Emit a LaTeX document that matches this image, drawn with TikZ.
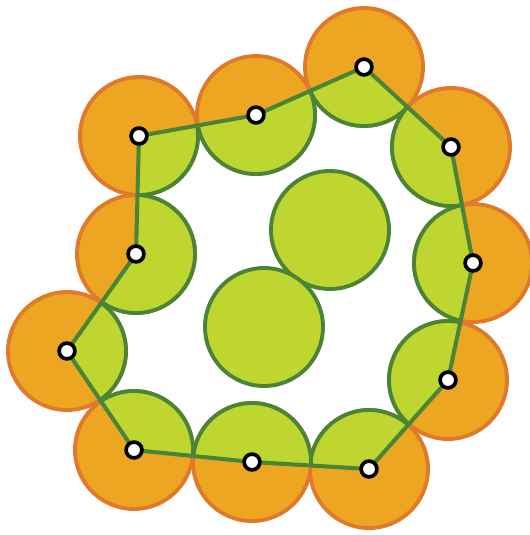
\documentclass[tikz,border=0pt]{standalone}
\usepackage{tikz}
\usetikzlibrary{positioning}
\definecolor{ofill}{HTML}{ECA621}
\definecolor{oline}{HTML}{E07A2A}
\definecolor{gfill}{HTML}{BFD630}
\definecolor{gline}{HTML}{4A8537}

\begin{document}
\begin{tikzpicture}[
  x=0.02cm,y=-0.02cm,
  O/.style={fill=ofill,draw=oline,line width=2.2pt},
  G/.style={fill=gfill,draw=gline,line width=2.2pt},
  ln/.style={draw=gline,line width=2.3pt,line join=round},
  dot/.style={circle,draw=black,fill=white,line width=2.1pt,
              inner sep=0pt,minimum size=9pt}
]
\useasboundingbox (0,0) rectangle (530,535);

% ring of centres
\foreach \n/\x/\y in {1/139/136,2/256/115,3/364/67,4/451/147,
                      5/473/263,6/448/380,7/369/469,8/252/462,
                      9/134/450,10/67/351,11/136/254}
  \coordinate (p\n) at (\x,\y);
\coordinate (c1) at (330,230);
\coordinate (c2) at (264,327);

% outer parts
\foreach \n in {1,...,11}
  \draw[O] (p\n) circle[radius=59];

% inner parts
\begin{scope}
  \clip (p1)--(p2)--(p3)--(p4)--(p5)--(p6)--(p7)--(p8)--(p9)--(p10)--(p11)--cycle;
  \foreach \n in {1,...,11}
    \draw[G] (p\n) circle[radius=59];
\end{scope}
\draw[G] (c1) circle[radius=59];
\draw[G] (c2) circle[radius=59];

\draw[ln] (p1)--(p2)--(p3)--(p4)--(p5)--(p6)--(p7)--(p8)--(p9)--(p10)--(p11)--cycle;

\foreach \n in {1,...,11}
  \node[dot] (d\n) at (p\n) {};
\end{tikzpicture}
\end{document}
